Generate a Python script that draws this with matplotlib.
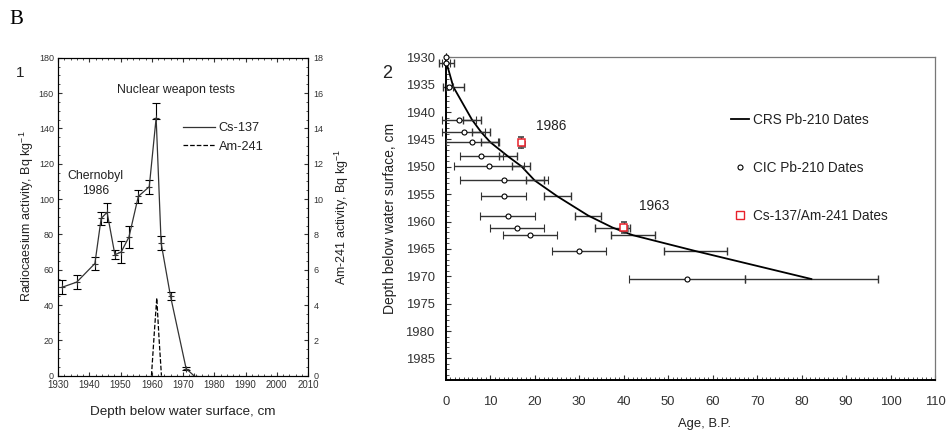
import matplotlib
matplotlib.use('Agg')
import matplotlib.pyplot as plt
import matplotlib.patheffects as pe
from matplotlib.ticker import MultipleLocator
from matplotlib.lines import Line2D

# panel 1: Cs-137 / Am-241 profiles
cs_year = [1931.2, 1936.0, 1941.8, 1943.8, 1945.7, 1948.2, 1950.2, 1952.7, 1955.7, 1959.2, 1961.4, 1963.0, 1966.0, 1971.0, 1973.5]
cs_val = [50, 53, 63.5, 89, 92.5, 68.5, 70, 78.5, 101.5, 107, 146, 75, 45, 4, 0]
cs_err_lo = [4, 4, 3.5, 3.5, 5.3, 2.5, 6, 6.3, 3.8, 4, 0.5, 4, 2.3, 1, 0]
cs_err_hi = [4, 4, 3.5, 3.5, 5.3, 2.5, 6, 6.3, 3.8, 4, 8.5, 4, 2.3, 1, 0]

am_year = [1959.9, 1960.8, 1961.6, 1962.3, 1963.1]
am_val = [0, 2.4, 4.4, 2.2, 0]

# panel 2: dating
cic_depth = [1930, 1931.1, 1935.4, 1941.4, 1943.6, 1945.5, 1948.1, 1949.9, 1952.5, 1955.4, 1958.9, 1961.1, 1962.5, 1965.4, 1970.5]
cic_age = [0, 0.0, 0.8, 3.0, 4.0, 5.9, 8.0, 9.8, 13.0, 13.0, 13.9, 16.0, 18.9, 30.0, 54.2]
cic_err = [0, 0.9, 0.8, 3.8, 4.8, 5.9, 4.9, 7.9, 9.9, 5.0, 6.1, 6.1, 6.0, 6.0, 13.0]

crs_depth = [1931.1, 1935.4, 1941.4, 1943.6, 1945.5, 1948.1, 1949.9, 1952.5, 1955.4, 1958.9, 1961.1, 1962.5, 1965.4, 1970.5]
crs_age = [0.2, 1.7, 5.9, 7.9, 10.0, 14.0, 17.0, 20.0, 25.1, 32.0, 37.5, 42.1, 56.2, 82.2]
crs_err = [1.7, 2.3, 2.1, 2.0, 2.0, 2.0, 2.0, 2.0, 3.1, 3.0, 4.0, 5.0, 7.1, 15.0]

sq_age = [17.0, 40.0]
sq_depth = [1945.6, 1961.1]
sq_err = [1.0, 1.0]

plt.rcParams['font.family'] = ['Liberation Sans', 'DejaVu Sans']
plt.rcParams['mathtext.fontset'] = 'custom'
plt.rcParams['mathtext.rm'] = 'Liberation Sans'
plt.rcParams['mathtext.it'] = 'Liberation Sans:italic'

TXT = '#222222'

fig = plt.figure(figsize=(9.48, 4.34), dpi=100)
ax1 = fig.add_axes([0.0612, 0.1343, 0.2637, 0.7327])
ax1b = ax1.twinx()
ax2 = fig.add_axes([0.4702, 0.1237, 0.5161, 0.7443])

# ---- panel 1
ax1.errorbar(cs_year, cs_val, yerr=[cs_err_lo, cs_err_hi], color='#333333', lw=0.9,
             ecolor='black', elinewidth=0.8, capsize=3, capthick=0.8, marker='+', ms=4, mew=0.8)
ax1b.plot(am_year, am_val, color='black', lw=0.9, ls='--')

ax1.set_xlim(1930, 2010)
ax1.set_ylim(0, 180)
ax1b.set_ylim(0, 18)
ax1.xaxis.set_major_locator(MultipleLocator(10))
ax1.xaxis.set_minor_locator(MultipleLocator(2))
ax1.yaxis.set_major_locator(MultipleLocator(20))
ax1.yaxis.set_minor_locator(MultipleLocator(5))
ax1b.yaxis.set_major_locator(MultipleLocator(2))
ax1b.yaxis.set_minor_locator(MultipleLocator(0.5))
ax1.tick_params(which='both', direction='in', top=True, labelsize=6.5, colors='#333333', pad=3)
ax1.tick_params(which='major', length=3)
ax1.tick_params(which='minor', length=1.5)
ax1.tick_params(axis='x', labelsize=7)
ax1b.tick_params(which='both', direction='in', labelsize=6.5, colors='#333333', pad=4)
ax1b.tick_params(which='major', length=3)
ax1b.tick_params(which='minor', length=1.5)

ax1.set_ylabel('Radiocaesium activity, Bq kg$^{-1}$', fontsize=9, color=TXT)
ax1.yaxis.set_label_coords(-0.09, 0.5)
ax1b.set_ylabel('Am-241 activity, Bq kg$^{-1}$', fontsize=9, color=TXT)
ax1b.yaxis.set_label_coords(1.10, 0.5)
ax1.set_xlabel('Depth below water surface, cm', fontsize=9.7, color=TXT)
ax1.xaxis.set_label_coords(0.5, -0.095)

ax1.text(1967.8, 161.5, 'Nuclear weapon tests', fontsize=8.8, ha='center', va='center', color=TXT)
ax1.text(1942, 109, 'Chernobyl\n1986', fontsize=8.8, ha='center', va='center', color=TXT, linespacing=1.3)

h1 = [Line2D([0], [0], color='#333333', lw=0.9),
      Line2D([0], [0], color='black', lw=0.9, ls='--')]
ax1.legend(h1, ['Cs-137', 'Am-241'], loc='upper left', bbox_to_anchor=(0.5, 0.797), frameon=False,
           fontsize=9.2, handlelength=2.5, handletextpad=0.3, labelspacing=0.5,
           borderpad=0, borderaxespad=0, labelcolor=TXT)

# ---- panel 2
ax2.plot(crs_age, crs_depth, color='black', lw=1.3, zorder=3)
eb = ax2.errorbar(crs_age, crs_depth, xerr=crs_err, fmt='none', ecolor='#333333',
                  elinewidth=1.0, capsize=3, capthick=1.0, zorder=2)
for a in eb.get_children():
    a.set_clip_on(False)
eb = ax2.errorbar(cic_age, cic_depth, xerr=cic_err, fmt='o', mfc='white', mec='black', mew=0.8,
                  ms=3.6, ecolor='#333333', elinewidth=1.0, capsize=3, capthick=1.0, zorder=4)
for a in eb.get_children():
    a.set_clip_on(False)
eb = ax2.errorbar(sq_age, sq_depth, yerr=sq_err, fmt='s', mfc='white', mec='#e8202a', mew=1.1,
                  ms=5, ecolor='#333333', elinewidth=1.0, capsize=2, capthick=1.0, zorder=5)
eb[0].set_path_effects([pe.SimplePatchShadow(offset=(1.0, -1.0), shadow_rgbFace='#666666', alpha=0.8),
                        pe.Normal()])

ax2.set_xlim(0, 110)
ax2.set_ylim(1989, 1930)
ax2.xaxis.set_major_locator(MultipleLocator(10))
ax2.xaxis.set_minor_locator(MultipleLocator(1))
ax2.yaxis.set_major_locator(MultipleLocator(5))
ax2.yaxis.set_minor_locator(MultipleLocator(1))
ax2.tick_params(which='both', direction='in', labelsize=9.4, colors='#333333')
ax2.tick_params(axis='x', pad=11)
ax2.tick_params(axis='y', pad=8)
ax2.tick_params(which='major', length=3.5)
ax2.tick_params(which='minor', length=2)
ax2.set_yticks(range(1930, 1990, 5))
for s in ['top', 'right']:
    ax2.spines[s].set_color('#777777')
    ax2.spines[s].set_linewidth(0.9)
for s in ['left', 'bottom']:
    ax2.spines[s].set_color('black')
    ax2.spines[s].set_linewidth(1.4)

ax2.set_ylabel('Depth below water surface, cm', fontsize=10, color=TXT)
ax2.yaxis.set_label_coords(-0.10, 0.5)
ax2.set_xlabel('Age, B.P.', fontsize=9.4, color=TXT)
ax2.xaxis.set_label_coords(0.528, -0.117)

ax2.text(23.8, 1942.6, '1986', fontsize=9.8, ha='center', va='center', color=TXT)
ax2.text(46.8, 1957.2, '1963', fontsize=9.8, ha='center', va='center', color=TXT)

h2 = [Line2D([0], [0], color='black', lw=1.3),
      Line2D([0], [0], marker='o', ls='none', mfc='white', mec='black', mew=0.8, ms=3.6),
      Line2D([0], [0], marker='s', ls='none', mfc='white', mec='#e8202a', mew=1.0, ms=5.5)]
ax2.legend(h2, ['CRS Pb-210 Dates', 'CIC Pb-210 Dates', 'Cs-137/Am-241 Dates'], loc='upper left',
           bbox_to_anchor=(0.584, 0.828), frameon=False, fontsize=9.8, handlelength=1.3,
           handletextpad=0.3, labelspacing=2.5, borderpad=0, borderaxespad=0, labelcolor=TXT)

# panel letters
fig.text(16 / 948, 1 - 20 / 434, 'B', fontsize=15, family='Liberation Serif', ha='center', va='center')
fig.text(20 / 948, 1 - 73 / 434, '1', fontsize=11, ha='center', va='center', color=TXT)
fig.text(387 / 948, 1 - 73 / 434, '2', fontsize=13, ha='center', va='center', color=TXT)

fig.savefig('out.png', dpi=100)
